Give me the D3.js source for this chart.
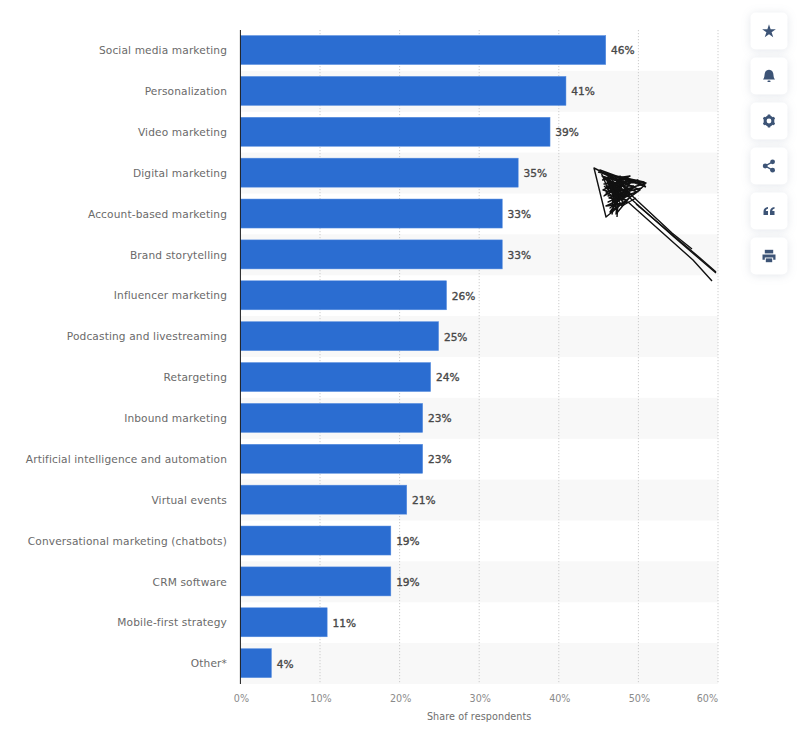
<!DOCTYPE html>
<html>
<head>
<meta charset="utf-8">
<script src="https://cdn.jsdelivr.net/npm/d3@7"></script>
<style>
    html, body { margin:0; padding:0; background:#fff; }
    svg { display:block; font-family:"DejaVu Sans", sans-serif; }
    .card { fill:#fff; filter:drop-shadow(0 1px 5px rgba(60,80,110,0.14)); }
    .cat { font-size:10.6px; fill:#6a6a6a; letter-spacing:.135px; }
    .val { font-size:10.6px; fill:#484848; stroke:#484848; stroke-width:.35px; }
    .tick-lab { font-size:9.6px; fill:#8a8a8a; }
    .ax-title { font-size:9.6px; fill:#6e6e6e; letter-spacing:.1px; }
</style>
</head>
<body>
<svg id="chart" width="800" height="733"></svg>
<script>
var categories = ["Social media marketing","Personalization","Video marketing","Digital marketing",
    "Account-based marketing","Brand storytelling","Influencer marketing","Podcasting and livestreaming",
    "Retargeting","Inbound marketing","Artificial intelligence and automation","Virtual events",
    "Conversational marketing (chatbots)","CRM software","Mobile-first strategy","Other*"];
var shares = [46,41,39,35,33,33,26,25,24,23,23,21,19,19,11,4];
var xTicks = [0,10,20,30,40,50,60];
var axisTitle = "Share of respondents";

// pen strokes scribbled over the screenshot, not data
var scribble = [
    [[716,273],[674,237],[630,198],[622,182],[594,168],[606,217],[645,185],[600,172],[640,190],[610,212],[632,180],[604,178],[637,192],[612,200],[628,178],[603,190],[630,197],[616,214],[620,176],[608,196],[642,188]],
    [[712,281],[693,260],[665,235],[628,202],[612,205],[616,184],[626,192],[606,186],[634,186]],
    [[692,249],[672,233],[628,192],[614,176],[646,183],[618,192],[607,182],[622,206],[636,198]],
    [[716,272],[700,258],[668,231],[636,204]],
    [[598,172],[644,182],[604,184],[638,180],[606,192],[634,188],[608,202],[630,192],[610,208],[624,196],[602,176],[626,184],[604,196],[622,178],[612,214],[618,182],[608,176],[616,208],[600,170],[646,187]],
    [[602,180],[630,176],[606,188],[628,190],[609,198],[626,200],[612,190],[620,186],[610,182],[624,204],[606,206],[632,194]],
    [[617,217],[618,204],[610,186],[622,190],[606,178],[616,196],[624,182],[612,178],[618,198],[604,186]]
];

var margin = {left:240.4, top:30, right:82, bottom:49};
var width = 800, height = 733;
var svg = d3.select("#chart");

var x = d3.scaleLinear().domain([0,60]).range([margin.left, width-margin.right]);
var y = d3.scaleBand().domain(categories).range([margin.top-0.4, height-margin.bottom-0.4]).paddingInner(0.29).paddingOuter(0.145);
var row = d3.scaleBand().domain(categories).range([margin.top, height-margin.bottom]);

// zebra rows
svg.append("g").selectAll("rect")
    .data(categories.filter(function(d,i) { return i%2==1; }))
    .enter().append("rect")
        .attr("x", x(0)).attr("width", x(60)-x(0))
        .attr("y", function(d) { return row(d); })
        .attr("height", row.bandwidth())
        .attr("fill", "#f8f8f8");

// grid
svg.append("g").selectAll("line")
    .data(xTicks.slice(1))
    .enter().append("line")
        .attr("x1", function(d) { return x(d); }).attr("x2", function(d) { return x(d); })
        .attr("y1", margin.top).attr("y2", height-margin.bottom)
        .attr("stroke", "#cccccc").attr("stroke-dasharray", "1.2,1.8");

// bars, with the soft lighter edge of the screenshot
svg.append("g").selectAll("rect")
    .data(categories)
    .enter().append("rect")
        .attr("x", x(0))
        .attr("y", function(d) { return y(d); })
        .attr("width", function(d,i) { return x(shares[i])-x(0)-0.8; })
        .attr("height", y.bandwidth())
        .attr("fill", "#2b6dd1")
        .attr("stroke", "#5a8fe0")
        .attr("stroke-width", 0.5);

svg.append("line")
    .attr("x1", x(0)).attr("x2", x(0))
    .attr("y1", margin.top).attr("y2", height-margin.bottom)
    .attr("stroke", "#1a1a1a").attr("stroke-width", 1);

// category + value labels
svg.append("g").selectAll("text")
    .data(categories)
    .enter().append("text")
        .attr("class", "cat")
        .attr("x", 227)
        .attr("y", function(d) { return row(d)+row.bandwidth()/2; })
        .attr("dy", "0.35em")
        .attr("text-anchor", "end")
        .text(function(d) { return d; });

svg.append("g").selectAll("text")
    .data(categories)
    .enter().append("text")
        .attr("class", "val")
        .attr("x", function(d,i) { return x(shares[i])+4.5; })
        .attr("y", function(d) { return row(d)+row.bandwidth()/2+0.3; })
        .attr("dy", "0.35em")
        .text(function(d,i) { return shares[i]+"%"; });

// x ticks, the last one is pulled inside the plot
svg.append("g").selectAll("text")
    .data(xTicks)
    .enter().append("text")
        .attr("class", "tick-lab")
        .attr("x", function(d) { return d==60 ? x(d) : x(d)+1; })
        .attr("y", 702)
        .attr("text-anchor", function(d) { return d==60 ? "end" : "middle"; })
        .text(function(d) { return d+"%"; });

svg.append("text")
    .attr("class", "ax-title")
    .attr("x", x(30)).attr("y", 720)
    .attr("text-anchor", "middle")
    .text(axisTitle);

// scribble
var pen = d3.line().curve(d3.curveLinear);
svg.append("g").selectAll("path")
    .data(scribble)
    .enter().append("path")
        .attr("d", pen)
        .attr("fill", "none")
        .attr("stroke", "#111")
        .attr("stroke-width", 1.4)
        .attr("stroke-linejoin", "round");

// toolbar on the right
var tools = ["star","bell","gear","share","quote","print"];
var iconColor = "#3d5476";
var btn = svg.append("g").selectAll("g")
    .data(tools)
    .enter().append("g")
        .attr("transform", function(d,i) { return "translate(769,"+(31+i*45)+")"; });

btn.append("rect")
    .attr("class", "card")
    .attr("x", -18.5).attr("y", -18.5)
    .attr("width", 37).attr("height", 37)
    .attr("rx", 5);

btn.each(function(d) {
    var g = d3.select(this).append("g").attr("fill", iconColor);
    if (d=="star") {
        g.append("path").attr("d", d3.symbol().type(d3.symbolStar).size(58)).attr("transform","translate(0,0.5)");
    } else if (d=="bell") {
        g.append("path").attr("d", "M-6,3.6 C-4.2,1.5 -4.7,-1 -4.2,-2.8 C-3.6,-5.2 -1.5,-6.2 0,-6.2 C1.5,-6.2 3.6,-5.2 4.2,-2.8 C4.7,-1 4.2,1.5 6,3.6 Z");
        g.append("rect").attr("x",-1.5).attr("y",4.6).attr("width",3).attr("height",1.5).attr("rx",.7);
    } else if (d=="gear") {
        g.append("circle").attr("r",3.9).attr("fill","none").attr("stroke",iconColor).attr("stroke-width",3);
        g.selectAll("rect").data([0,60,120]).enter().append("rect")
            .attr("x",-1.4).attr("y",-6.4).attr("width",2.8).attr("height",12.8).attr("rx",.6)
            .attr("fill",iconColor)
            .attr("transform",function(a) { return "rotate("+a+")"; });
        g.append("circle").attr("r",2.4).attr("fill","#fff");
    } else if (d=="share") {
        g.append("path").attr("d","M3.6,-4.2 L-3.8,0 L3.6,4.2").attr("fill","none").attr("stroke",iconColor).attr("stroke-width",1.4);
        g.append("circle").attr("cx",3.6).attr("cy",-4.2).attr("r",2.4);
        g.append("circle").attr("cx",-3.8).attr("cy",0).attr("r",2.4);
        g.append("circle").attr("cx",3.6).attr("cy",4.2).attr("r",2.4);
    } else if (d=="quote") {
        g.append("path").attr("d","M-5.5,4 L-1,4 L-1,0 L-3.2,0 C-3.2,-1.2 -2.4,-2 -1,-2.2 L-1,-4 C-4,-3.8 -5.5,-2 -5.5,0.5 Z");
        g.append("path").attr("d","M1,4 L5.5,4 L5.5,0 L3.3,0 C3.3,-1.2 4.1,-2 5.5,-2.2 L5.5,-4 C2.5,-3.8 1,-2 1,0.5 Z");
    } else {
        g.append("path").attr("d","M-4.2,-6.2 L4.2,-6.2 L4.2,-2.6 L-4.2,-2.6 Z");
        g.append("path").attr("d","M-6.5,-1.6 L6.5,-1.6 L6.5,3.8 L4.2,3.8 L4.2,1.4 L-4.2,1.4 L-4.2,3.8 L-6.5,3.8 Z");
        g.append("rect").attr("x",-3.2).attr("y",2.4).attr("width",6.4).attr("height",3.8);
    }
});
</script>
</body>
</html>
